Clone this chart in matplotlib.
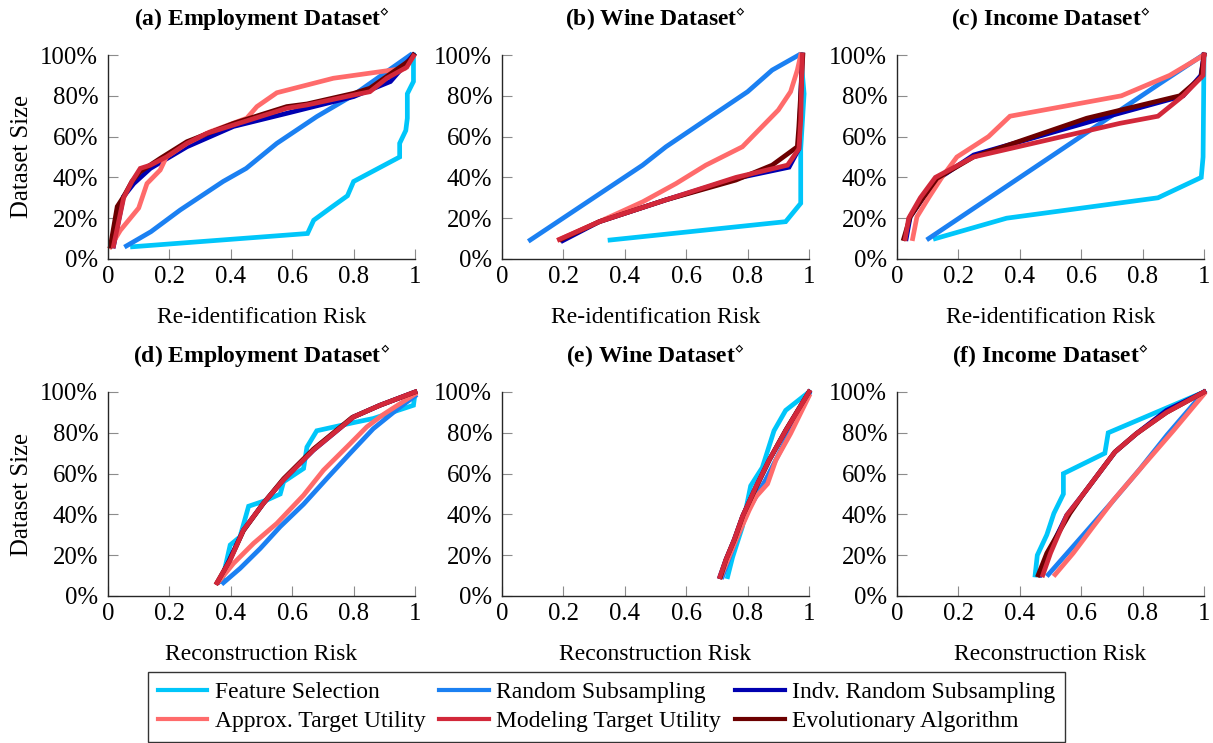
import matplotlib
matplotlib.use("Agg")
import matplotlib.pyplot as plt

plt.rcParams['font.family'] = ['Liberation Serif', 'DejaVu Serif']
plt.rcParams['mathtext.fontset'] = 'stix'

# ── series names / colours ─────────────────────────────────────────────
methods = ["Feature Selection", "Random Subsampling", "Indv. Random Subsampling",
           "Approx. Target Utility", "Modeling Target Utility", "Evolutionary Algorithm"]
colors = ["#00c6fa", "#1b80f2", "#0000b0", "#ff6b6b", "#d2283a", "#6c0000"]

titles = ["(a) Employment Dataset", "(b) Wine Dataset", "(c) Income Dataset",
          "(d) Employment Dataset", "(e) Wine Dataset", "(f) Income Dataset"]
xlabels = ["Re-identification Risk"] * 3 + ["Reconstruction Risk"] * 3

x_ticks = [0, 0.2, 0.4, 0.6, 0.8, 1]
x_ticklabels = ["0", "0.2", "0.4", "0.6", "0.8", "1"]
y_ticks = [0, 20, 40, 60, 80, 100]
y_ticklabels = ["0%", "20%", "40%", "60%", "80%", "100%"]

# ── (a) Employment, re-identification risk ─────────────────────────────
a_fs_x = [0.08, 0.65, 0.67, 0.73, 0.78, 0.80, 0.87, 0.95, 0.95, 0.97, 0.975, 0.975, 0.995, 0.995]
a_fs_y = [6, 12.5, 19, 25.6, 31, 38, 43.6, 50, 56.7, 63, 69, 81, 87, 100]
a_rs_x = [0.06, 0.14, 0.235, 0.375, 0.45, 0.55, 0.68, 0.80, 0.985]
a_rs_y = [6.4, 13.4, 24, 38, 44.4, 56.7, 69.8, 80.4, 100]
a_irs_x = [0.018, 0.05, 0.084, 0.138, 0.257, 0.409, 0.582, 0.80, 0.92, 0.995]
a_irs_y = [6.4, 30.5, 37, 44.4, 55, 65, 71.4, 79.6, 87, 100]
a_atu_x = [0.008, 0.04, 0.10, 0.127, 0.17, 0.19, 0.257, 0.333, 0.452, 0.485, 0.55, 0.734, 0.967, 0.995]
a_atu_y = [6, 14, 25, 37, 43.6, 50, 56.7, 62.4, 69, 74.7, 81.5, 88.6, 93.5, 99.5]
a_mtu_x = [0.018, 0.051, 0.078, 0.105, 0.138, 0.19, 0.257, 0.322, 0.409, 0.582, 0.648, 0.80, 0.853, 0.908, 0.973, 0.995]
a_mtu_y = [6.4, 30, 38, 44.4, 46, 50, 56.7, 61.6, 65.7, 73.9, 75.5, 80.4, 82, 88.6, 94, 99.5]
a_evo_x = [0.008, 0.03, 0.051, 0.078, 0.105, 0.17, 0.257, 0.409, 0.582, 0.648, 0.80, 0.853, 0.984, 0.995]
a_evo_y = [6.4, 25.7, 30.6, 38, 42.8, 49.3, 57.5, 66.5, 74.7, 76, 81.2, 83.7, 97.5, 100]

# ── (b) Wine, re-identification risk ───────────────────────────────────
b_fs_x = [0.352, 0.924, 0.973, 0.973, 0.984, 0.973]
b_fs_y = [9.3, 18.3, 27.3, 54, 81, 100]
b_rs_x = [0.092, 0.458, 0.534, 0.80, 0.88, 0.967]
b_rs_y = [9.3, 46, 55, 82, 92.6, 100]
b_irs_x = [0.198, 0.317, 0.534, 0.762, 0.935, 0.967, 0.978]
b_irs_y = [9, 18.3, 29, 39.5, 45, 54, 100]
b_atu_x = [0.187, 0.317, 0.458, 0.567, 0.664, 0.783, 0.90, 0.94, 0.962, 0.973]
b_atu_y = [9.6, 18.3, 28, 37, 46, 55, 73, 82, 92.6, 100]
b_mtu_x = [0.187, 0.317, 0.534, 0.762, 0.93, 0.967, 0.973, 0.978]
b_mtu_y = [9.6, 18.3, 29, 40, 46, 54, 68, 100]
b_evo_x = [0.193, 0.317, 0.534, 0.762, 0.88, 0.962, 0.967, 0.98]
b_evo_y = [9.6, 18.3, 29, 38.7, 46, 55, 65, 100]

# ── (c) Income, re-identification risk ─────────────────────────────────
c_fs_x = [0.125, 0.357, 0.85, 0.991, 0.997, 1.0]
c_fs_y = [10, 20, 30, 40, 50, 100]
c_rs_x = [0.103, 0.856, 0.997]
c_rs_y = [10, 86, 100]
c_irs_x = [0.03, 0.043, 0.087, 0.141, 0.25, 0.704, 0.932, 0.99, 1.0]
c_irs_y = [10, 20.7, 30.5, 40, 51, 70.6, 80, 90, 100]
c_atu_x = [0.051, 0.065, 0.103, 0.146, 0.195, 0.298, 0.368, 0.731, 0.888, 1.0]
c_atu_y = [10, 20.7, 30, 40, 50, 60, 70, 80, 90, 100]
c_mtu_x = [0.027, 0.038, 0.076, 0.125, 0.249, 0.726, 0.85, 0.932, 0.997, 1.0]
c_mtu_y = [10, 20, 30, 40, 50, 66.5, 70, 80, 90, 100]
c_evo_x = [0.022, 0.043, 0.087, 0.13, 0.249, 0.618, 0.921, 0.99, 1.0]
c_evo_y = [10, 20.7, 30.5, 39.5, 50, 69, 80, 89, 100]

# ── (d) Employment, reconstruction risk ────────────────────────────────
d_fs_x = [0.371, 0.398, 0.43, 0.458, 0.517, 0.561, 0.572, 0.637, 0.648, 0.68, 0.80, 0.864, 0.995, 1.0]
d_fs_y = [7, 25, 29, 44, 47, 50, 56, 62.5, 73, 81, 85, 87, 93.5, 99]
d_rs_x = [0.376, 0.43, 0.496, 0.561, 0.637, 0.713, 0.789, 0.864, 0.951, 1.0]
d_rs_y = [6.5, 13.5, 23.3, 34, 45, 57.6, 70, 82, 92.6, 98]
d_irs_x = [0.36, 0.387, 0.441, 0.506, 0.572, 0.669, 0.80, 0.886, 1.0]
d_irs_y = [7, 15, 32.3, 45.4, 57, 71.5, 87.8, 93.5, 100]
d_atu_x = [0.36, 0.409, 0.474, 0.55, 0.637, 0.702, 0.789, 0.843, 0.897, 1.0]
d_atu_y = [7, 16, 25.8, 35.6, 49.4, 61.7, 74.7, 82.9, 89, 99]
d_mtu_x = [0.355, 0.398, 0.441, 0.506, 0.572, 0.669, 0.80, 0.886, 1.0]
d_mtu_y = [6.5, 17.6, 32.3, 45.4, 57, 71.5, 87.8, 93.5, 100]
d_evo_x = [0.355, 0.395, 0.441, 0.506, 0.572, 0.669, 0.795, 0.886, 1.0]
d_evo_y = [6.5, 17, 32, 45.4, 57.5, 72, 87.5, 93.5, 100]

# ── (e) Wine, reconstruction risk ──────────────────────────────────────
e_fs_x = [0.735, 0.751, 0.783, 0.81, 0.848, 0.886, 0.924, 1.0]
e_fs_y = [9.5, 19, 34, 54, 63, 81, 91, 100]
e_rs_x = [0.718, 0.762, 0.805, 0.859, 0.913, 1.0]
e_rs_y = [9.5, 27.4, 43, 57, 73, 99]
e_irs_x = [0.71, 0.729, 0.756, 0.783, 0.827, 0.87, 0.924, 1.0]
e_irs_y = [9.5, 17.6, 27.4, 38.8, 53.5, 66.6, 81, 100]
e_atu_x = [0.713, 0.762, 0.805, 0.827, 0.865, 0.892, 0.94, 1.0]
e_atu_y = [9.5, 27.4, 42, 48.6, 55, 66.6, 79.6, 98]
e_mtu_x = [0.71, 0.729, 0.756, 0.783, 0.827, 0.87, 0.924, 1.0]
e_mtu_y = [9.5, 17.6, 27.4, 38.8, 53.5, 66.6, 81, 100]
e_evo_x = [0.712, 0.73, 0.758, 0.785, 0.83, 0.872, 0.925, 1.0]
e_evo_y = [9.5, 18, 28, 39.5, 54, 67, 81.5, 100]

# ── (f) Income, reconstruction risk ────────────────────────────────────
f_fs_x = [0.45, 0.457, 0.488, 0.511, 0.542, 0.542, 0.677, 0.688, 1.0]
f_fs_y = [10.3, 20, 30, 40.5, 50, 60, 70, 80, 100]
f_rs_x = [0.493, 0.607, 0.70, 0.79, 0.88, 1.0]
f_rs_y = [10.5, 30, 46, 62, 79, 100]
f_irs_x = [0.466, 0.493, 0.553, 0.607, 0.71, 0.78, 0.878, 1.0]
f_irs_y = [10.3, 21, 39.6, 50, 70.6, 79.6, 91, 100]
f_atu_x = [0.515, 0.574, 0.639, 0.705, 0.802, 0.90, 1.0]
f_atu_y = [10.5, 21, 34, 47, 64, 81, 99]
f_mtu_x = [0.475, 0.50, 0.553, 0.607, 0.71, 0.78, 0.878, 1.0]
f_mtu_y = [10.3, 21, 39.6, 50, 70.6, 79.6, 90, 100]
f_evo_x = [0.46, 0.488, 0.563, 0.607, 0.71, 0.78, 0.878, 1.0]
f_evo_y = [10.3, 21, 40.5, 50, 70.6, 79.6, 90, 100]

panels = [
    [(a_fs_x, a_fs_y), (a_rs_x, a_rs_y), (a_irs_x, a_irs_y), (a_atu_x, a_atu_y), (a_mtu_x, a_mtu_y), (a_evo_x, a_evo_y)],
    [(b_fs_x, b_fs_y), (b_rs_x, b_rs_y), (b_irs_x, b_irs_y), (b_atu_x, b_atu_y), (b_mtu_x, b_mtu_y), (b_evo_x, b_evo_y)],
    [(c_fs_x, c_fs_y), (c_rs_x, c_rs_y), (c_irs_x, c_irs_y), (c_atu_x, c_atu_y), (c_mtu_x, c_mtu_y), (c_evo_x, c_evo_y)],
    [(d_fs_x, d_fs_y), (d_rs_x, d_rs_y), (d_irs_x, d_irs_y), (d_atu_x, d_atu_y), (d_mtu_x, d_mtu_y), (d_evo_x, d_evo_y)],
    [(e_fs_x, e_fs_y), (e_rs_x, e_rs_y), (e_irs_x, e_irs_y), (e_atu_x, e_atu_y), (e_mtu_x, e_mtu_y), (e_evo_x, e_evo_y)],
    [(f_fs_x, f_fs_y), (f_rs_x, f_rs_y), (f_irs_x, f_irs_y), (f_atu_x, f_atu_y), (f_mtu_x, f_mtu_y), (f_evo_x, f_evo_y)],
]

# draw order: Evolutionary below Modeling
draw_order = [0, 1, 2, 3, 5, 4]
# legend is filled column by column, so reorder to read row-wise
legend_order = [0, 3, 1, 4, 2, 5]

# ── layout (pixel-matched to 1213x743) ─────────────────────────────────
W, H = 1213, 743
fig = plt.figure(figsize=(W / 100, H / 100), dpi=100)
lefts = [108, 502, 897]
tops = [55, 392]
ax_w, ax_h = 307, 204

handles = {}
for i, series in enumerate(panels):
    row, col = divmod(i, 3)
    ax = fig.add_axes([lefts[col] / W, 1 - (tops[row] + ax_h) / H, ax_w / W, ax_h / H])
    for k in draw_order:
        xs, ys = series[k]
        ln, = ax.plot(xs, ys, color=colors[k], lw=3.4, solid_joinstyle='miter',
                      clip_on=False, label=methods[k])
        handles[k] = ln
    ax.set_xlim(0, 1)
    ax.set_ylim(0, 100)
    ax.set_xticks(x_ticks)
    ax.set_xticklabels(x_ticklabels)
    ax.set_yticks(y_ticks)
    ax.set_yticklabels(y_ticklabels)
    ax.tick_params(direction='in', length=7, width=0.8, color='#8c8c8c',
                   labelsize=17.8, labelcolor='black')
    ax.tick_params(axis='x', pad=5)
    ax.tick_params(axis='y', pad=7)
    for s in ['top', 'right']:
        ax.spines[s].set_visible(False)
    for s in ['left', 'bottom']:
        ax.spines[s].set_color('#262626')
        ax.spines[s].set_linewidth(1.0)
    ax.set_title(titles[i] + r"$^{\diamond}$", fontsize=17, fontweight='bold', pad=21)
    ax.set_xlabel(xlabels[i], fontsize=17, labelpad=14)
    if col == 0:
        ax.set_ylabel("Dataset Size", fontsize=17.8, labelpad=5)

leg = fig.legend([handles[k] for k in legend_order], [methods[k] for k in legend_order],
                 ncol=3, loc='upper center', bbox_to_anchor=(0.5, 1 - 672 / H),
                 fontsize=17, frameon=True, fancybox=False,
                 edgecolor='#333333', framealpha=1, handlelength=2.1,
                 handletextpad=0.3, columnspacing=0.6, borderpad=0.4,
                 labelspacing=0.32, borderaxespad=0)
leg.get_frame().set_linewidth(1.0)
for lh in leg.get_lines():
    lh.set_linewidth(3.0)

fig.savefig("out.png", dpi=100)
